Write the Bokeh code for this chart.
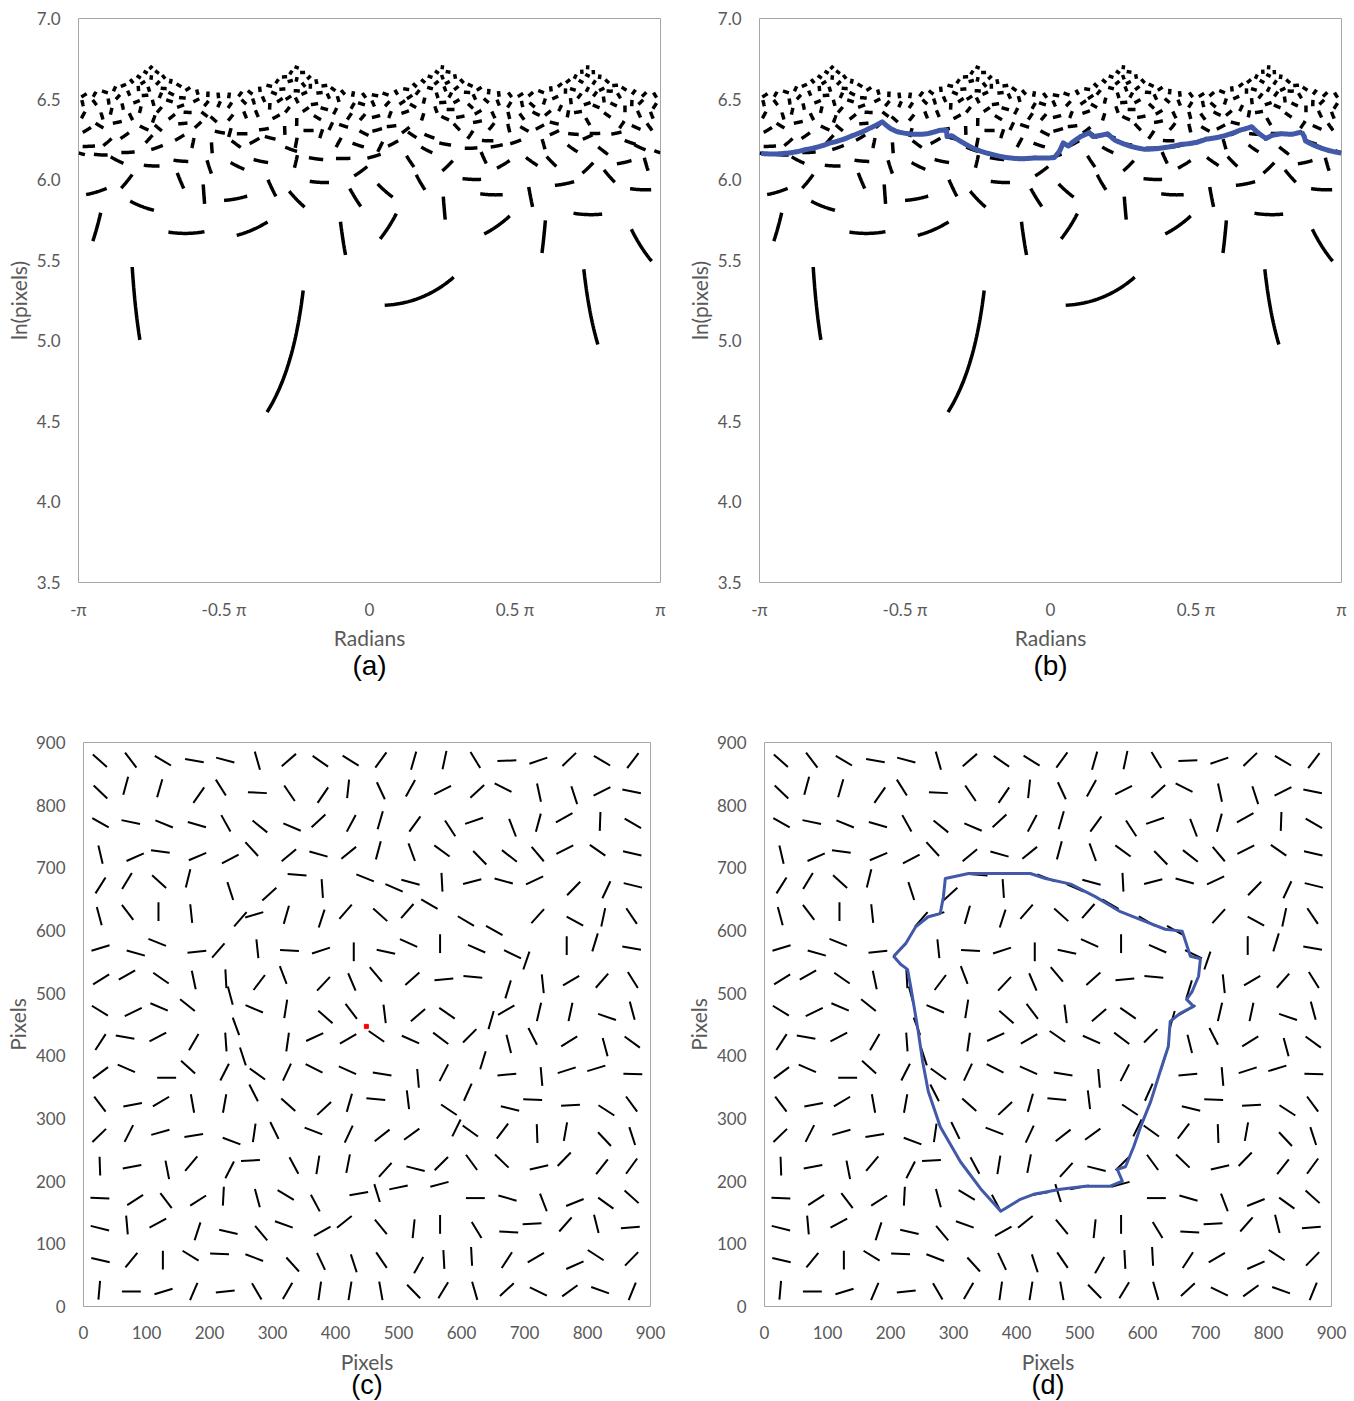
import numpy as np
from bokeh.plotting import figure
from bokeh.layouts import column, row
from bokeh.models import Range1d, FixedTicker, PrintfTickFormatter, LinearAxis
from bokeh.embed import file_html
from bokeh.resources import INLINE

# ---------------- data: oriented line elements in image (c)/(d) ----------------
# centre x (pixels)
seg_x = [
    26, 75, 126, 176, 225, 276, 27, 67, 121, 183, 218, 276, 27, 75, 128, 180, 226, 280,
    27, 82, 122, 181, 233, 267, 27, 69, 120, 166, 233, 295, 25, 70, 119, 171, 249, 271,
    326, 376, 424, 472, 524, 573, 327, 380, 420, 472, 519, 570, 331, 373, 425, 471, 526, 582,
    326, 373, 421, 468, 521, 569, 339, 379, 447, 493, 519, 569, 322, 378, 416, 471, 514, 549, 607,
    622, 672, 722, 771, 823, 872, 625, 666, 723, 779, 823, 870, 620, 681, 722, 763, 820, 872,
    629, 676, 721, 764, 816, 871, 617, 667, 716, 778, 830, 872, 652, 721, 780, 825, 870,
    27, 83, 117, 180, 214, 276, 28, 69, 123, 175, 226, 279, 26, 79, 120, 165, 233, 271, 242,
    27, 66, 118, 175, 226, 253, 27, 68, 132, 166, 224, 276, 26, 78, 123, 173, 224, 270,
    327, 377, 429, 480, 516, 566, 317, 381, 426, 464, 522, 572, 321, 384, 425, 478, 531, 577,
    324, 367, 420, 465, 519, 567, 323, 366, 419, 474, 531, 572, 325, 382, 422, 464, 515, 580,
    624, 681, 703, 767, 812, 870, 618, 674, 729, 774, 823, 872, 671, 647, 723, 773, 831, 871,
    613, 675, 713, 771, 828, 871, 634, 672, 727, 767, 814, 872, 610, 677, 713, 773, 830, 870,
    25, 72, 122, 175, 235, 271, 303, 26, 77, 133, 171, 232, 265, 26, 82, 131, 182, 222, 276,
    26, 69, 118, 181, 230, 282, 27, 76, 126, 170, 216, 271, 25, 76, 127, 175, 225, 275,
    365, 421, 474, 521, 592, 614, 334, 372, 420, 479, 527, 568, 321, 368, 437, 466, 500, 565,
    318, 379, 414, 472, 524, 566, 332, 377, 429, 473, 532, 572, 324, 375, 423, 472, 524, 571,
    665, 720, 765, 827, 871, 616, 664, 723, 763, 823, 870, 622, 673, 730, 780, 829, 870,
    624, 675, 712, 765, 814, 868, 616, 672, 718, 780, 813, 870, 621, 672, 722, 772, 820, 871,
]
# centre y (pixels)
seg_y = [
    871, 872, 871, 871, 872, 871, 821, 831, 827, 816, 828, 820, 772, 773, 770, 769, 771, 766,
    721, 717, 726, 718, 714, 730, 672, 679, 678, 683, 663, 658, 623, 629, 630, 627, 618, 625,
    872, 870, 871, 872, 871, 872, 819, 816, 826, 823, 827, 824, 765, 775, 771, 776, 770, 763,
    720, 722, 724, 728, 725, 727, 689, 667, 684, 668, 677, 677, 625, 619, 630, 625, 631, 642, 615,
    872, 871, 871, 873, 871, 871, 822, 828, 820, 816, 822, 822, 775, 764, 772, 780, 774, 771,
    716, 719, 722, 729, 728, 723, 678, 679, 680, 667, 665, 672, 600, 623, 615, 621, 623,
    572, 564, 581, 566, 568, 571, 522, 529, 524, 521, 523, 517, 472, 470, 478, 481, 496, 475, 447,
    422, 430, 430, 422, 422, 399, 373, 380, 365, 382, 374, 371, 323, 322, 327, 324, 324, 341,
    568, 568, 566, 566, 580, 579, 529, 515, 518, 530, 523, 522, 475, 462, 471, 467, 465, 468,
    422, 430, 427, 431, 426, 428, 374, 380, 377, 371, 364, 373, 322, 316, 325, 331, 330, 314,
    571, 562, 552, 576, 581, 572, 526, 506, 515, 520, 520, 521, 473, 457, 470, 470, 462, 472,
    432, 419, 431, 423, 414, 422, 393, 370, 367, 377, 380, 371, 342, 316, 330, 321, 313, 323,
    273, 276, 278, 273, 264, 277, 281, 224, 223, 218, 228, 218, 233, 173, 170, 169, 169, 176, 173,
    125, 130, 133, 120, 119, 117, 74, 74, 74, 81, 84, 78, 26, 24, 24, 24, 24, 24,
    280, 275, 273, 275, 285, 280, 225, 226, 228, 218, 220, 228, 178, 165, 180, 181, 190, 195,
    131, 120, 135, 127, 124, 131, 67, 72, 69, 74, 66, 75, 25, 25, 25, 25, 24, 26,
    280, 276, 279, 267, 272, 230, 232, 222, 235, 223, 224, 173, 173, 166, 166, 165, 175,
    122, 119, 132, 131, 132, 126, 80, 74, 78, 66, 82, 76, 25, 27, 24, 25, 26, 24,
]
# orientation (degrees, counter-clockwise from +x)
seg_deg = [
    -42, -53, -31, -10, -15, -74, -44, 75, 74, 55, -58, -3, -30, -12, -22, -16, -61, -39,
    -77, 24, -8, 23, 28, -48, 58, 59, -42, 76, -72, 42, -75, -53, 90, -84, 49, 17,
    41, -35, -32, 54, 74, 78, -56, 56, 84, -65, 61, 27, -23, 43, 62, 74, 54, -57,
    40, -16, 39, 75, -70, -36, -4, -86, -22, -24, -15, -87, 74, 72, 49, -42, 49, -30, -31,
    -59, 2, 19, 44, -31, 53, 43, -27, -78, -72, 27, -11, 19, -69, 75, 29, 88, -30,
    -46, -38, -50, 27, -35, -13, 15, -15, 25, 46, 65, -14, -29, 48, -29, 78, -56,
    17, -16, -22, 6, 49, -84, 32, 30, -35, -78, -87, 53, -32, 26, -23, -39, -75, -23, -70,
    57, -10, 28, 60, -86, -72, 37, -24, 0, -42, 63, -36, -53, 11, 31, -80, 80, -63,
    -3, 18, 90, -12, -24, 90, -69, 47, -67, -50, 42, 5, 81, -41, -53, -83, 41, -35,
    82, 25, 30, -35, -24, -37, 65, -27, -24, -9, -85, 63, -42, 43, 74, -5, -83, -34,
    -24, -26, 71, 90, 73, -10, -5, 73, -84, 31, 49, -58, 30, 74, 77, 78, -19, -75,
    45, -76, -63, 32, -75, -36, 73, 6, -85, 18, 17, -2, 66, -14, -2, 3, -33, -54,
    44, 63, 16, 9, -21, 82, -64, -88, 11, -79, 50, 63, 3, -2, 33, -53, 33, 87, -75,
    -14, -85, 28, 72, -13, -50, -13, 51, 90, -32, -2, -21, 85, 0, 17, 67, 6, -60,
    -21, 65, 38, 36, 64, -36, -62, 81, 79, 48, -14, 45, -31, -62, 10, -73, 12, 15,
    -20, 29, 39, -51, 84, 90, -48, -65, -72, -56, 61, -87, 60, 82, 81, -80, -46, 59,
    53, -88, 80, -47, -72, -54, -44, 13, 46, 52, 54, 0, -16, -69, 22, -36, -42,
    -59, -3, 3, 49, -76, 5, -87, 57, 31, 24, -33, 46, -74, 43, -26, 36, -20, 68,
]

# fixation point (red dot in (c)) = centre of the log-polar transform
fix_x = [449]
fix_y = [447]

# detected contour (blue outline in (d)), pixels
cont_x = [205, 224, 240, 260, 279, 284, 287, 324, 375, 422, 446, 486, 525, 565, 605, 636,
          663, 676, 692, 689, 679, 670, 681, 660, 644, 641, 628, 613, 597, 586, 573, 560,
          568, 549, 509, 470, 427, 406, 375, 343, 311, 279, 260, 251, 244, 236, 232, 227,
          216, 205]
cont_y = [559, 579, 606, 622, 627, 654, 683, 691, 691, 691, 683, 674, 654, 630, 614, 602,
          599, 559, 555, 527, 503, 490, 479, 468, 455, 415, 375, 327, 287, 255, 223, 219,
          200, 192, 192, 187, 179, 171, 152, 188, 231, 287, 343, 391, 439, 487, 511, 538,
          546, 559]

x_ticks_rad = [-1, -0.5, 0, 0.5, 1]
x_tick_labels_rad = ["-π", "-0.5 π", "0", "0.5 π", "π"]
y_ticks_ln = [3.5, 4.0, 4.5, 5.0, 5.5, 6.0, 6.5, 7.0]
pix_ticks = [0, 100, 200, 300, 400, 500, 600, 700, 800, 900]

# ---------------- styling constants ----------------
SEG_LEN = 30.0
LP_A, LP_B = 3.5, 0.5          # ln(pixels) mapping of the log-polar image
BLUE = "#4159A8"
GRAY = "#595959"
FONT = "Lato"

n = min(len(seg_x), len(seg_y), len(seg_deg))
sx = np.array(seg_x[:n], float)
sy = np.array(seg_y[:n], float)
sa = np.radians(np.array(seg_deg[:n], float))
hx = SEG_LEN / 2 * np.cos(sa)
hy = SEG_LEN / 2 * np.sin(sa)
x0, y0, x1, y1 = sx - hx, sy - hy, sx + hx, sy + hy
CX, CY = float(fix_x[0]), float(fix_y[0])


def to_logpolar(px, py):
    dx = px - CX
    dy = py - CY
    th = np.arctan2(dy, dx) / np.pi
    r = LP_A + LP_B * np.log(np.hypot(dx, dy))
    return th, r


def split_wrap(th, r, xs_out, ys_out):
    breaks = np.where(np.abs(np.diff(th)) > 1.0)[0]
    start = 0
    for b in breaks:
        xs_out.append(th[start:b + 1].tolist())
        ys_out.append(r[start:b + 1].tolist())
        start = b + 1
    xs_out.append(th[start:].tolist())
    ys_out.append(r[start:].tolist())


t = np.linspace(0.0, 1.0, 30)
lp_xs, lp_ys = [], []
for i in range(n):
    px = x0[i] + t * (x1[i] - x0[i])
    py = y0[i] + t * (y1[i] - y0[i])
    th, r = to_logpolar(px, py)
    split_wrap(th, r, lp_xs, lp_ys)

cx_arr = np.array(cont_x, float)
cy_arr = np.array(cont_y, float)
tt = np.linspace(0.0, 1.0, 12)[:-1]
cpx = np.concatenate([cx_arr[k] + tt * (cx_arr[k + 1] - cx_arr[k]) for k in range(len(cx_arr) - 1)] + [cx_arr[-1:]])
cpy = np.concatenate([cy_arr[k] + tt * (cy_arr[k + 1] - cy_arr[k]) for k in range(len(cy_arr) - 1)] + [cy_arr[-1:]])
cth, cr = to_logpolar(cpx, cpy)
blue_xs, blue_ys = [], []
split_wrap(cth, cr, blue_xs, blue_ys)


def make_fig(fw, fh, xr, yr, lb, rb, tb, bb):
    p = figure(frame_width=fw, frame_height=fh, x_range=xr, y_range=yr,
               min_border_left=lb, min_border_right=rb, min_border_top=tb, min_border_bottom=bb,
               output_backend="svg", toolbar_location=None)
    p.xgrid.visible = False
    p.ygrid.visible = False
    p.outline_line_color = "#A6A6A6"
    p.outline_line_width = 1
    p.background_fill_color = "white"
    p.border_fill_color = "white"
    for ax in (p.xaxis[0], p.yaxis[0]):
        ax.axis_line_color = None
        ax.major_tick_line_color = None
        ax.minor_tick_line_color = None
        ax.major_tick_out = 0
        ax.major_tick_in = 0
        ax.minor_tick_out = 0
        ax.minor_tick_in = 0
        ax.major_label_text_font = FONT
        ax.major_label_text_font_size = "17px"
        ax.major_label_text_color = GRAY
        ax.axis_label_text_font = FONT
        ax.axis_label_text_font_size = "21px"
        ax.axis_label_text_font_style = "normal"
        ax.axis_label_text_color = GRAY
    p.yaxis[0].major_label_standoff = 18
    p.xaxis[0].major_label_standoff = 16
    return p


def add_panel_label(p, txt, standoff, size):
    ax = LinearAxis(ticker=FixedTicker(ticks=[]), axis_label=txt)
    ax.axis_line_color = None
    ax.major_tick_line_color = None
    ax.minor_tick_line_color = None
    ax.major_tick_out = 0
    ax.major_tick_in = 0
    ax.minor_tick_out = 0
    ax.minor_tick_in = 0
    ax.major_label_standoff = 0
    ax.major_label_text_font_size = "0px"
    ax.axis_label_standoff = standoff
    ax.axis_label_text_font = "Liberation Sans"
    ax.axis_label_text_font_size = size
    ax.axis_label_text_font_style = "normal"
    ax.axis_label_text_color = "black"
    p.add_layout(ax, "below")


def logpolar_fig(lb, rb, label, with_blue):
    p = make_fig(582, 564, Range1d(-1, 1), Range1d(3.5, 7.0), lb, rb, 18, 100)
    p.xaxis[0].ticker = FixedTicker(ticks=x_ticks_rad)
    p.xaxis[0].major_label_overrides = dict(zip(x_ticks_rad, x_tick_labels_rad))
    p.yaxis[0].ticker = FixedTicker(ticks=y_ticks_ln)
    p.yaxis[0].formatter = PrintfTickFormatter(format="%.1f")
    p.xaxis[0].axis_label = "Radians"
    p.yaxis[0].axis_label = "ln(pixels)"
    p.xaxis[0].axis_label_standoff = 2
    p.yaxis[0].axis_label_standoff = 3
    p.multi_line(lp_xs, lp_ys, line_color="black", line_width=3.5)
    if with_blue:
        p.multi_line(blue_xs, blue_ys, line_color=BLUE, line_width=5, line_join="round")
    add_panel_label(p, label, -3, "28px")
    return p


def pixel_fig(lb, rb, label, with_dot, with_contour):
    p = make_fig(567, 564, Range1d(0, 900), Range1d(0, 900), lb, rb, 59, 96)
    p.xaxis[0].ticker = FixedTicker(ticks=pix_ticks)
    p.yaxis[0].ticker = FixedTicker(ticks=pix_ticks)
    p.xaxis[0].axis_label = "Pixels"
    p.yaxis[0].axis_label = "Pixels"
    p.xaxis[0].major_label_standoff = 19
    p.xaxis[0].axis_label_standoff = 7
    p.yaxis[0].axis_label_standoff = 3
    p.segment(x0.tolist(), y0.tolist(), x1.tolist(), y1.tolist(), line_color="black", line_width=2)
    if with_dot:
        p.scatter(fix_x, fix_y, marker="square", size=4, color="red")
    if with_contour:
        p.line(cont_x, cont_y, line_color=BLUE, line_width=3, line_join="round")
    add_panel_label(p, label, -7, "27px")
    return p


pa = logpolar_fig(78, 19, "(a)", False)
pb = logpolar_fig(80, 13, "(b)", True)
pc = pixel_fig(83, 24, "(c)", True, False)
pd = pixel_fig(90, 23, "(d)", False, True)

layout = column(row(pa, pb), row(pc, pd))
open("out.html", "w").write(file_html(layout, INLINE))
